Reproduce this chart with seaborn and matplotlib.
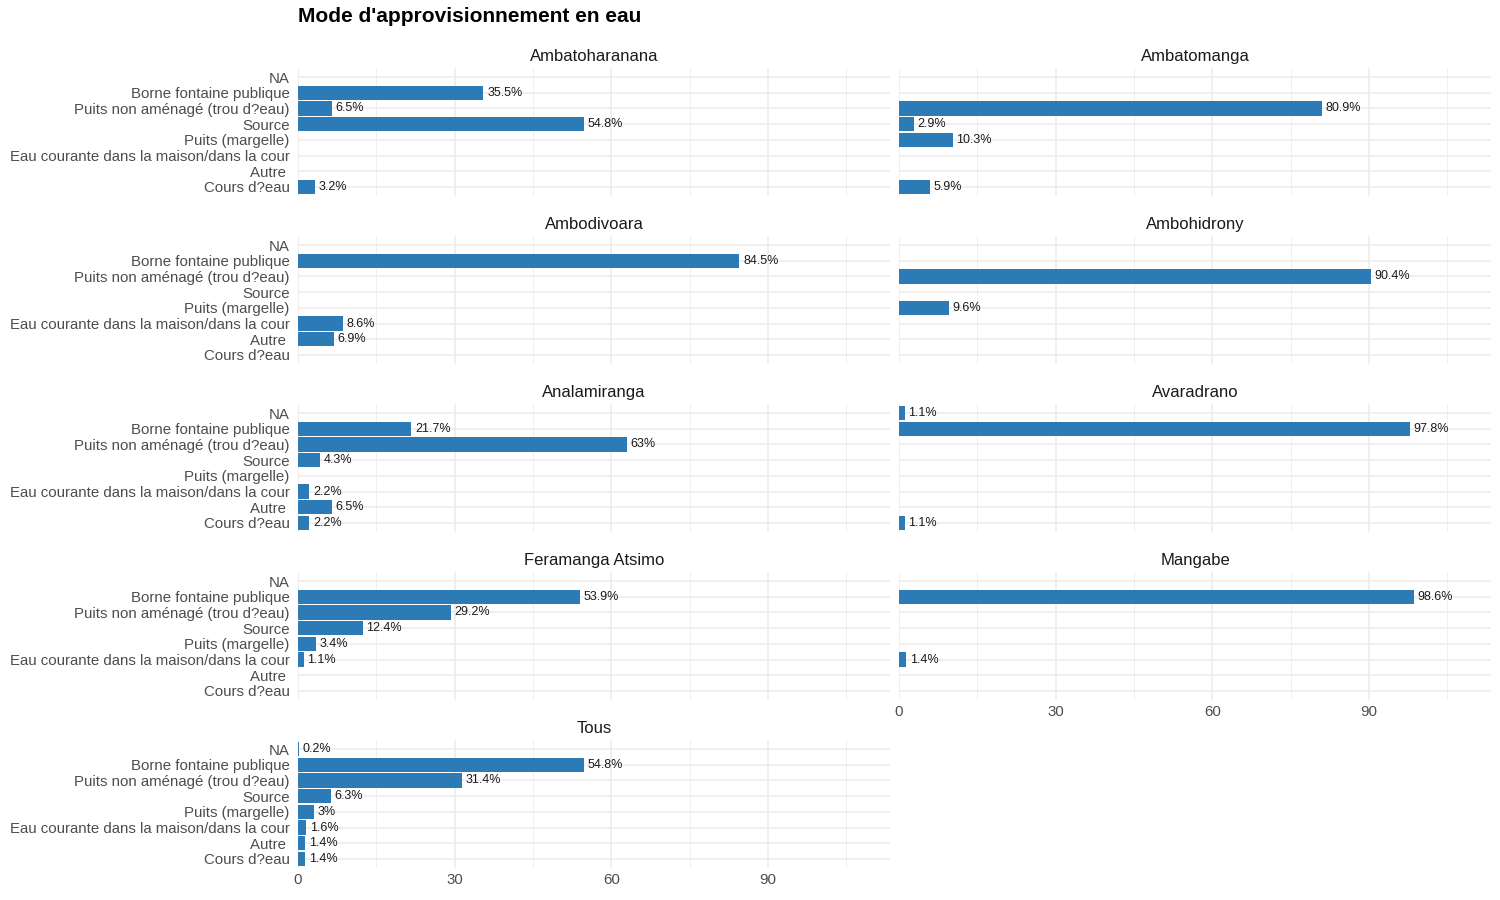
"""
Mode d'approvisionnement en eau - faceted horizontal bars
"""

import numpy as np
import pandas as pd
import matplotlib
matplotlib.use("Agg")
import matplotlib.pyplot as plt
import seaborn as sns

categories = ["NA", "Borne fontaine publique", "Puits non aménagé (trou d?eau)",
              "Source", "Puits (margelle)", "Eau courante dans la maison/dans la cour",
              "Autre ", "Cours d?eau"]

communes = ["Ambatoharanana", "Ambatomanga", "Ambodivoara", "Ambohidrony",
            "Analamiranga", "Avaradrano", "Feramanga Atsimo", "Mangabe", "Tous"]

# one list per commune, same order as categories (None = no bar)
ambatoharanana = [None, 35.5, 6.5, 54.8, None, None, None, 3.2]
ambatomanga = [None, None, 80.9, 2.9, 10.3, None, None, 5.9]
ambodivoara = [None, 84.5, None, None, None, 8.6, 6.9, None]
ambohidrony = [None, None, 90.4, None, 9.6, None, None, None]
analamiranga = [None, 21.7, 63, 4.3, None, 2.2, 6.5, 2.2]
avaradrano = [1.1, 97.8, None, None, None, None, None, 1.1]
feramanga = [None, 53.9, 29.2, 12.4, 3.4, 1.1, None, None]
mangabe = [None, 98.6, None, None, None, 1.4, None, None]
tous = [0.2, 54.8, 31.4, 6.3, 3, 1.6, 1.4, 1.4]

values = [ambatoharanana, ambatomanga, ambodivoara, ambohidrony,
          analamiranga, avaradrano, feramanga, mangabe, tous]

x_ticks = [0, 30, 60, 90]

rows = []
for commune, vals in zip(communes, values):
    for cat, v in zip(categories, vals):
        if v is not None:
            rows.append({"commune": commune, "mode": cat, "pct": v})
df = pd.DataFrame(rows)

sns.set_theme(style="white")
plt.rcParams["font.family"] = ["Liberation Sans", "DejaVu Sans"]

BAR = "#2C7BB6"
GRID = "#EBEBEB"
W, H = 1500, 900

fig = plt.figure(figsize=(15, 9), dpi=100)

col_x = [298, 899]
panel_w = 592
row_top = [67.6, 235.6, 403.6, 571.6, 739.6]
panel_h = 128.8
xmax = panel_w / (156.7 / 30)

for i, commune in enumerate(communes):
    r, c = divmod(i, 2)
    left = col_x[c] / W
    bottom = 1 - (row_top[r] + panel_h) / H
    ax = fig.add_axes([left, bottom, panel_w / W, panel_h / H])

    sub = df[df["commune"] == commune]
    # gridlines
    for xv in np.arange(0, 120, 30):
        ax.axvline(xv, color=GRID, lw=1.1, zorder=0)
    for xv in np.arange(15, 120, 30):
        ax.axvline(xv, color=GRID, lw=0.55, zorder=0)
    for yv in range(len(categories)):
        ax.axhline(yv, color=GRID, lw=1.1, zorder=0)

    sns.barplot(data=sub, x="pct", y="mode", order=categories, color=BAR,
                saturation=1, width=0.9, orient="h", linewidth=0, ax=ax, zorder=2)

    for _, row in sub.iterrows():
        yi = categories.index(row["mode"])
        ax.text(row["pct"] + 0.7, yi, f"{row['pct']:g}%", va="center", ha="left",
                fontsize=9, color="#1A1A1A", zorder=3)

    ax.set_xlim(0, xmax)
    ax.set_ylim(len(categories) - 0.4, -0.6)
    ax.set_xlabel("")
    ax.set_ylabel("")
    for s in ax.spines.values():
        s.set_visible(False)
    ax.tick_params(axis="both", length=0, labelsize=10.8, labelcolor="#4D4D4D")
    ax.tick_params(axis="y", pad=6)
    ax.tick_params(axis="x", pad=3)
    ax.set_xticks(x_ticks)
    ax.set_yticks(range(len(categories)))
    if c == 0:
        ax.set_yticklabels(categories)
    else:
        ax.set_yticklabels([])
    if commune in ("Tous", "Mangabe"):
        ax.set_xticklabels([str(t) for t in x_ticks])
    else:
        ax.set_xticklabels([])
    ax.set_title(commune, fontsize=12, color="#1A1A1A", pad=5)

fig.text(298 / W, 1 - 17 / H, "Mode d'approvisionnement en eau", fontsize=15,
         fontweight="bold", ha="left", va="center", color="black")

fig.savefig("out.png", dpi=100, facecolor="white")
